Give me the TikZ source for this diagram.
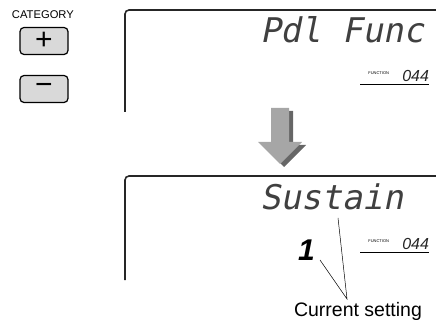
\documentclass[tikz,border=0pt]{standalone}
\usepackage{fontspec}
\setmainfont{Liberation Sans}
\newfontfamily\lcdfont{DejaVu Sans Mono}[FakeSlant=0.2]
\usepackage{xcolor}

\begin{document}
\begin{tikzpicture}[
    x=1pt, y=-1pt,
    every node/.style={inner sep=0pt, outer sep=0pt},
    key/.style={
        rectangle,
        draw=black,
        line width=1.2pt,
        fill=black!15,
        rounded corners=4pt,
        minimum width=48pt,
        minimum height=27pt,
        font=\fontsize{30}{30}\selectfont
    },
    lcd/.style={anchor=base west, text=black!75, font=\lcdfont\fontsize{34}{34}\selectfont},
    fn/.style={anchor=north east, font=\fontsize{4}{4}\selectfont},
    num/.style={anchor=base east, text=black!85, font=\itshape\fontsize{16}{16}\selectfont},
    frame/.style={line width=1.6pt, draw=black!85, rounded corners=4pt},
    pointer/.style={line width=0.5pt}
]
\useasboundingbox (0,0) rectangle (436,320);

% Category keys
\node[anchor=base west, font=\fontsize{11.2}{11.2}\selectfont] (catlabel) at (12,19) {CATEGORY};
\node[key] (plus) at (44,41) {+};
\node[key] (minus) at (44,89) {−};

% Upper display
\draw[frame] (125,112) |- (436,10);
\node[lcd] (pdl) at (260,43) {Pdl Func};
\node[num] (num1) at (429,82) {044};
\node[fn] (func1) at (389,72) {FUNCTION};
\draw[line width=0.9pt] (360,84) -- (429,84);

% Arrow with its shadow
\foreach \dx/\dy/\col in {4/3/black!60, 0/0/black!35}
    \fill[\col, shift={(\dx,\dy)}] (271,108) -- (289,108) -- (289,142) -- (302,142)
        -- (280,164) -- (258,142) -- (271,142) -- cycle;

% Lower display
\draw[frame] (125,280) |- (436,176);
\node[lcd] (sustain) at (260,210) {Sustain};
\node[anchor=base west, font=\bfseries\itshape\fontsize{30}{30}\selectfont] (value) at (298,260) {1};
\node[num] (num2) at (429,250) {044};
\node[fn] (func2) at (389,240) {FUNCTION};
\draw[line width=0.9pt] (360,252) -- (429,252);

% Label and pointers
\node[anchor=base west, font=\fontsize{19.5}{19.5}\selectfont] (current) at (294,316) {Current setting};
\coordinate (apex) at (347,299);
\coordinate (tsus) at (338,218);
\coordinate (tone) at (320,260);
\draw[pointer] (tsus) -- (apex) -- (tone);

\end{tikzpicture}
\end{document}
